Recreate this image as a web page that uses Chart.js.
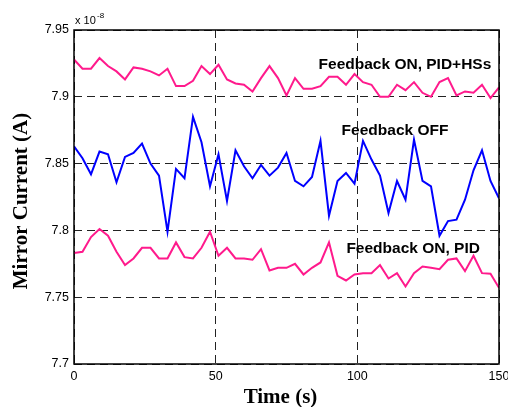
<!DOCTYPE html>
<html>
<head>
<meta charset="utf-8">
<script src="https://cdn.jsdelivr.net/npm/chart.js@4.4.1/dist/chart.umd.min.js"></script>
<style>
  html, body { margin: 0; padding: 0; background: #fff; }
  canvas { display: block; }
</style>
</head>
<body>
<canvas id="mirror" width="508" height="407"></canvas>
<script>
// time axis (s)
const TIME = [0, 3, 6, 9, 12, 15, 18, 21, 24, 27, 30, 33, 36, 39, 42, 45, 48, 51, 54, 57,
  60, 63, 66, 69, 72, 75, 78, 81, 84, 87, 90, 93, 96, 99, 102, 105, 108, 111, 114, 117,
  120, 123, 126, 129, 132, 135, 138, 141, 144, 147, 150];

// mirror current, x 1e-8 A
const PID_HSS = [7.928, 7.921, 7.921, 7.929, 7.923, 7.919, 7.913, 7.922, 7.921, 7.919,
  7.916, 7.921, 7.908, 7.908, 7.912, 7.923, 7.917, 7.924, 7.913, 7.910,
  7.909, 7.904, 7.914, 7.923, 7.914, 7.901, 7.914, 7.906, 7.906, 7.908,
  7.915, 7.915, 7.909, 7.917, 7.911, 7.909, 7.900, 7.900, 7.909, 7.905,
  7.911, 7.903, 7.900, 7.911, 7.914, 7.901, 7.904, 7.903, 7.909, 7.899,
  7.907];

const FB_OFF = [7.863, 7.854, 7.842, 7.859, 7.857, 7.836, 7.855, 7.858, 7.865, 7.850,
  7.841, 7.799, 7.846, 7.839, 7.885, 7.866, 7.833, 7.857, 7.822, 7.860,
  7.848, 7.839, 7.849, 7.841, 7.847, 7.858, 7.837, 7.833, 7.840, 7.867,
  7.811, 7.837, 7.843, 7.835, 7.867, 7.853, 7.841, 7.813, 7.837, 7.823,
  7.868, 7.837, 7.833, 7.796, 7.807, 7.808, 7.823, 7.845, 7.860, 7.837,
  7.824];

const PID = [7.783, 7.784, 7.795, 7.801, 7.796, 7.784, 7.774, 7.779, 7.787, 7.787,
  7.779, 7.779, 7.791, 7.780, 7.779, 7.787, 7.799, 7.781, 7.787, 7.779,
  7.779, 7.778, 7.786, 7.770, 7.772, 7.772, 7.775, 7.767, 7.772, 7.776,
  7.791, 7.766, 7.7625, 7.767, 7.768, 7.768, 7.774, 7.764, 7.768, 7.758,
  7.768, 7.773, 7.772, 7.771, 7.778, 7.779, 7.7695, 7.781, 7.768, 7.7675,
  7.757];

// text notes placed in data units
const NOTE_TEXT = ['Feedback ON, PID+HSs', 'Feedback OFF', 'Feedback ON, PID'];
const NOTE_T = [116.8, 113.3, 119.7];
const NOTE_V = [7.9239, 7.8746, 7.7864];

const PINK = '#FF1A8C';
const BLUE = '#0000FF';
const SANS = '"Liberation Sans", Arial, sans-serif';
const SERIF = '"Liberation Serif", "Times New Roman", serif';

function points(ys) {
  return TIME.map((t, i) => ({x: t, y: ys[i]}));
}

// frame, notes, axis titles, exponent
const decorations = {
  id: 'decorations',
  afterDraw(chart) {
    const ctx = chart.ctx;
    const a = chart.chartArea;
    const xs = chart.scales.x, ys = chart.scales.y;
    ctx.save();
    ctx.strokeStyle = '#000';
    ctx.lineWidth = 1.5;
    ctx.strokeRect(a.left, a.top, a.right - a.left, a.bottom - a.top);

    ctx.fillStyle = '#000';
    ctx.textAlign = 'center';
    ctx.textBaseline = 'middle';
    ctx.font = 'bold 15.5px ' + SANS;
    NOTE_TEXT.forEach((txt, i) => {
      ctx.fillText(txt, xs.getPixelForValue(NOTE_T[i]), ys.getPixelForValue(NOTE_V[i]));
    });

    ctx.font = 'bold 21px ' + SERIF;
    ctx.textBaseline = 'alphabetic';
    ctx.fillText('Time (s)', 280.5, 403);
    ctx.save();
    ctx.translate(27, 201);
    ctx.rotate(-Math.PI / 2);
    ctx.fillText('Mirror Current (A)', 0, 0);
    ctx.restore();

    ctx.textAlign = 'left';
    ctx.font = '11px ' + SANS;
    ctx.fillText('x 10', 75, 24);
    ctx.font = '8px ' + SANS;
    ctx.fillText('-8', 97, 18);
    ctx.restore();
  }
};

const gridColor = '#222';

new Chart(document.getElementById('mirror').getContext('2d'), {
  type: 'line',
  data: {
    datasets: [
      {label: 'Feedback ON, PID+HSs', data: points(PID_HSS), borderColor: PINK},
      {label: 'Feedback OFF', data: points(FB_OFF), borderColor: BLUE},
      {label: 'Feedback ON, PID', data: points(PID), borderColor: PINK}
    ]
  },
  options: {
    responsive: false,
    animation: false,
    devicePixelRatio: 1,
    layout: {padding: {left: 0, right: 9, top: 30, bottom: 0}},
    elements: {
      line: {borderWidth: 2, tension: 0},
      point: {radius: 0}
    },
    plugins: {
      legend: {display: false},
      tooltip: {enabled: false}
    },
    scales: {
      x: {
        type: 'linear',
        min: 0,
        max: 150,
        ticks: {stepSize: 50, padding: 5, color: '#000', font: {family: SANS, size: 12.5}, maxRotation: 0},
        grid: {color: gridColor, lineWidth: 1, drawTicks: false},
        border: {display: false, dash: [8, 5]},
        afterFit(s) { s.height = 43; s.paddingLeft = 0; s.paddingRight = 0; }
      },
      y: {
        min: 7.7,
        max: 7.95,
        ticks: {
          stepSize: 0.05, padding: 5, color: '#000', font: {family: SANS, size: 12.5},
          callback: v => String(+v.toFixed(2))
        },
        grid: {color: gridColor, lineWidth: 1, drawTicks: false},
        border: {display: false, dash: [8, 5]},
        afterFit(s) { s.width = 74; }
      }
    }
  },
  plugins: [decorations]
});
</script>
</body>
</html>
